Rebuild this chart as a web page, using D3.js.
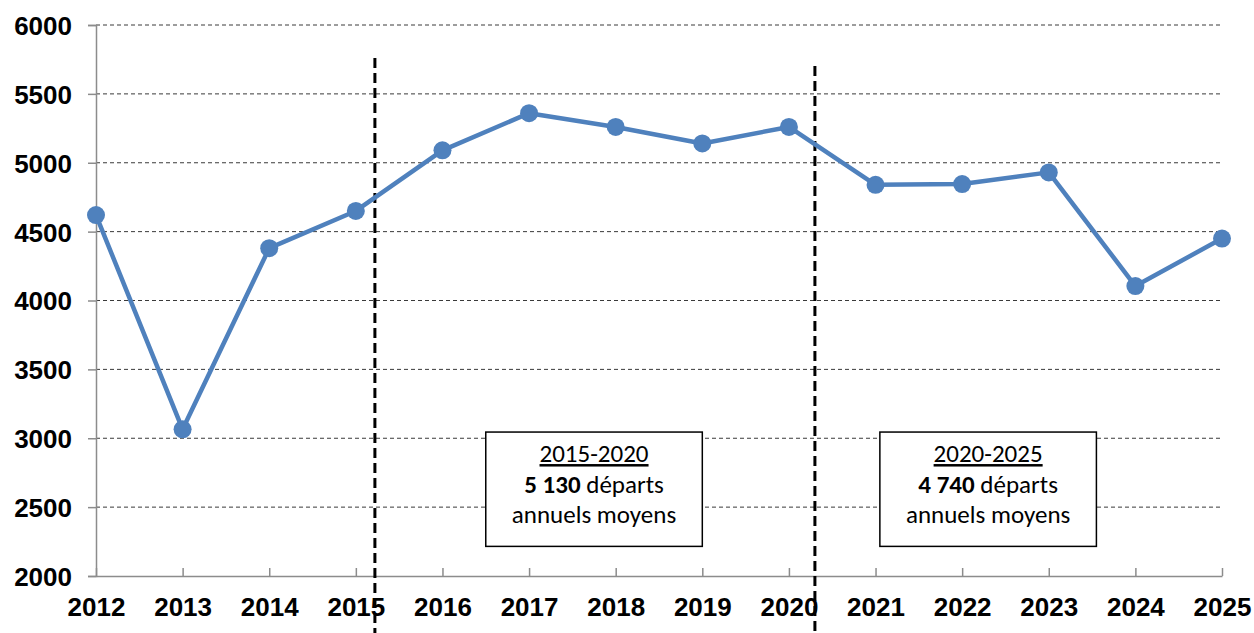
<!DOCTYPE html>
<html>
<head>
<meta charset="utf-8">
<script src="https://cdn.jsdelivr.net/npm/d3@7"></script>
<style>
  body { margin: 0; background: white; }
  svg text { font-family: "Liberation Sans", Arial, sans-serif; }
</style>
</head>
<body>
<script>
// data
const years = [2012, 2013, 2014, 2015, 2016, 2017, 2018, 2019, 2020, 2021, 2022, 2023, 2024, 2025];
const departs = [4620, 3065, 4380, 4650, 5090, 5360, 5260, 5140, 5260, 4840, 4845, 4930, 4105, 4450];
const yTicks = [2000, 2500, 3000, 3500, 4000, 4500, 5000, 5500, 6000];
const periodLines = [2015.22, 2020.3];
const boxes = [
  {period: "2015-2020", value: "5 130", from: 2016.5, to: 2019},
  {period: "2020-2025", value: "4 740", from: 2021.05, to: 2023.55}
];

const width = 1254, height = 633;
const margin = {top: 25, right: 32, bottom: 57, left: 96};

const svg = d3.select("body").append("svg")
    .attr("width", width)
    .attr("height", height);

const x = d3.scaleLinear()
    .domain([2012, 2025])
    .range([margin.left, width - margin.right]);
const y = d3.scaleLinear()
    .domain([2000, 6000])
    .range([height - margin.bottom, margin.top]);

// horizontal grid
svg.append("g")
  .selectAll("line")
  .data(yTicks.slice(1))
  .enter().append("line")
    .attr("x1", x(2012))
    .attr("x2", x(2025))
    .attr("y1", d => y(d))
    .attr("y2", d => y(d))
    .attr("stroke", "#3a3a3a")
    .attr("stroke-width", 1)
    .attr("stroke-dasharray", "4,3");

// y axis
const yAxis = d3.axisLeft(y)
    .tickValues(yTicks)
    .tickSize(8)
    .tickPadding(16)
    .tickFormat(d3.format("d"));
const yAxisG = svg.append("g")
    .attr("transform", `translate(${x(2012)},0)`)
    .call(yAxis);
yAxisG.select(".domain").attr("stroke", "#8c8c8c").attr("stroke-width", 1.5);
yAxisG.selectAll(".tick line").attr("stroke", "#8c8c8c").attr("stroke-width", 1.5);
yAxisG.selectAll("text")
    .style("font-size", "26px")
    .attr("font-weight", "bold")
    .attr("fill", "#000")
    .attr("dy", "0.36em");

// x axis
const xAxis = d3.axisBottom(x)
    .tickValues(years)
    .tickSize(8)
    .tickSizeOuter(0)
    .tickPadding(14)
    .tickFormat(d3.format("d"));
const xAxisG = svg.append("g")
    .attr("transform", `translate(0,${y(2000)})`)
    .call(xAxis);
xAxisG.select(".domain").attr("stroke", "#8c8c8c").attr("stroke-width", 1.5);
xAxisG.selectAll(".tick line")
    .attr("stroke", "#8c8c8c")
    .attr("stroke-width", 1.5)
    .attr("y1", -8)
    .attr("y2", 0);
xAxisG.selectAll("text")
    .style("font-size", "26px")
    .attr("font-weight", "bold")
    .attr("fill", "#000");

// period separators
svg.append("g")
  .selectAll("line")
  .data(periodLines)
  .enter().append("line")
    .attr("x1", d => x(d))
    .attr("x2", d => x(d))
    .attr("y1", (d, i) => i === 0 ? 58 : 66)
    .attr("y2", height)
    .attr("stroke", "#000")
    .attr("stroke-width", 3)
    .attr("stroke-dasharray", "10,5");

// series line
const line = d3.line()
    .x((d, i) => x(years[i]))
    .y(d => y(d));

svg.append("path")
    .datum(departs)
    .attr("fill", "none")
    .attr("stroke", "#4F81BD")
    .attr("stroke-width", 4.5)
    .attr("stroke-linejoin", "round")
    .attr("d", line);

svg.append("g")
  .selectAll("circle")
  .data(departs)
  .enter().append("circle")
    .attr("cx", (d, i) => x(years[i]))
    .attr("cy", d => y(d))
    .attr("r", 9)
    .attr("fill", "#4F81BD");

// annotation boxes
const boxTop = y(3045), boxBottom = y(2215);
const bg = svg.append("g")
  .selectAll("g")
  .data(boxes)
  .enter().append("g");

bg.append("rect")
    .attr("x", d => x(d.from))
    .attr("y", boxTop)
    .attr("width", d => x(d.to) - x(d.from))
    .attr("height", boxBottom - boxTop)
    .attr("fill", "white")
    .attr("stroke", "#000")
    .attr("stroke-width", 1.5);

const txt = bg.append("text")
    .attr("text-anchor", "middle")
    .attr("fill", "#000")
    .style("font-size", "25px")
    .style("font-family", "Carlito, 'Open Sans', 'Liberation Sans', sans-serif");

txt.append("tspan")
    .attr("x", d => (x(d.from) + x(d.to)) / 2)
    .attr("y", boxTop + 30)
    .attr("text-decoration", "underline")
    .text(d => d.period);

const l2 = txt.append("tspan")
    .attr("x", d => (x(d.from) + x(d.to)) / 2)
    .attr("y", boxTop + 61);
l2.append("tspan").attr("font-weight", "bold").text(d => d.value);
l2.append("tspan").text(" départs");

txt.append("tspan")
    .attr("x", d => (x(d.from) + x(d.to)) / 2)
    .attr("y", boxTop + 91)
    .text("annuels moyens");
</script>
</body>
</html>
